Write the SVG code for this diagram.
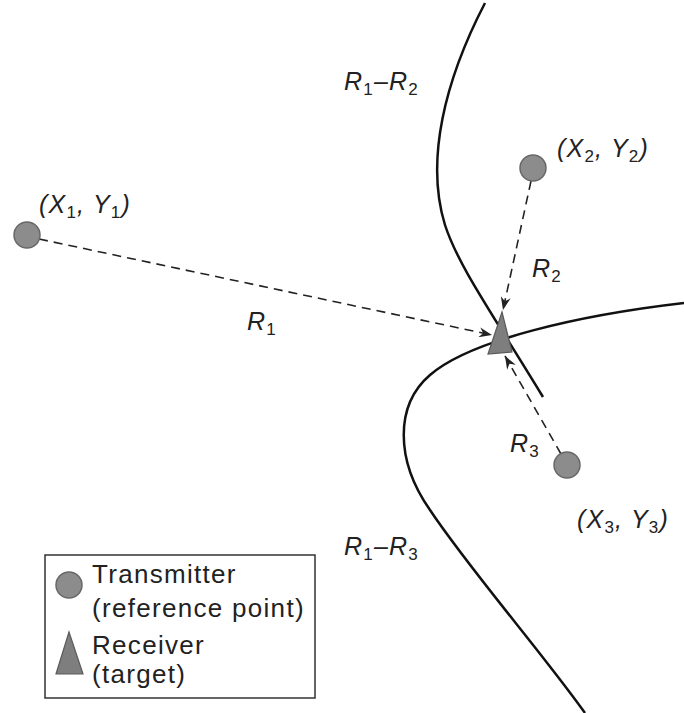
<svg xmlns="http://www.w3.org/2000/svg" width="684" height="713" viewBox="0 0 684 713">
<style>
.curve{fill:none;stroke:#111;stroke-width:2.5}
.dash{fill:none;stroke:#222;stroke-width:1.6;stroke-dasharray:9 6}
.tx{fill:#8c8c8c;stroke:#686868;stroke-width:1.5}
.rx{fill:#7e7e7e;stroke:#5a5a5a;stroke-width:1.2}
.lbl{font-family:"Liberation Sans",Arial,sans-serif;font-style:italic;font-size:25px;fill:#222;letter-spacing:1.2px}
.sub{font-size:17px;font-style:normal}
.leg{font-family:"Liberation Sans",Arial,sans-serif;font-size:26px;fill:#222;letter-spacing:1.3px}
</style>
<defs>
<marker id="arr" markerUnits="userSpaceOnUse" markerWidth="14" markerHeight="10" refX="13" refY="5" orient="auto">
<path d="M0,0 L13,5 L0,10 L4,5 z" fill="#222"/>
</marker>
</defs>
<rect width="684" height="713" fill="#fff"/>
<g id="hyperbolas">
<path id="h12" class="curve" d="M485,3 C445,80 425,160 445,225 C458,265 490,310 543,397"/>
<path id="h13" class="curve" d="M684,303 C580,315 470,340 430,375 C395,405 395,460 430,510 C470,570 540,650 585,713"/>
</g>
<g id="connectors">
<path class="dash" d="M39,239 L492,335" marker-end="url(#arr)"/>
<path class="dash" d="M531,181 L503,310" marker-end="url(#arr)"/>
<path class="dash" d="M561,454 L505,356" marker-end="url(#arr)"/>
</g>
<g id="t1"><circle class="tx" cx="27" cy="235" r="13"/></g>
<g id="t2"><circle class="tx" cx="533" cy="168" r="13"/></g>
<g id="t3"><circle class="tx" cx="567" cy="465" r="13"/></g>
<g id="receiver"><polygon class="rx" points="502,312 488,354 512,352"/></g>
<g id="labels">
<text class="lbl" x="39" y="213">(X<tspan class="sub" dy="5">1</tspan><tspan dy="-5">, Y</tspan><tspan class="sub" dy="5">1</tspan><tspan dy="-5">)</tspan></text>
<text class="lbl" x="557" y="157">(X<tspan class="sub" dy="5">2</tspan><tspan dy="-5">, Y</tspan><tspan class="sub" dy="5">2</tspan><tspan dy="-5">)</tspan></text>
<text class="lbl" x="577" y="528">(X<tspan class="sub" dy="5">3</tspan><tspan dy="-5">, Y</tspan><tspan class="sub" dy="5">3</tspan><tspan dy="-5">)</tspan></text>
<text class="lbl" x="344" y="90">R<tspan class="sub" dy="5">1</tspan><tspan dy="-5">–R</tspan><tspan class="sub" dy="5">2</tspan></text>
<text class="lbl" x="344" y="555">R<tspan class="sub" dy="5">1</tspan><tspan dy="-5">–R</tspan><tspan class="sub" dy="5">3</tspan></text>
<text class="lbl" x="532" y="277">R<tspan class="sub" dy="5">2</tspan></text>
<text class="lbl" x="247" y="330">R<tspan class="sub" dy="5">1</tspan></text>
<text class="lbl" x="510" y="452">R<tspan class="sub" dy="5">3</tspan></text>
</g>
<g id="legend">
<rect x="45" y="555" width="270" height="143" fill="#fff" stroke="#333" stroke-width="1.5"/>
<circle class="tx" cx="69" cy="585" r="13"/>
<polygon class="rx" points="69,632 56,674 83,674"/>
<text class="leg" x="92" y="583">Transmitter</text>
<text class="leg" x="92" y="617">(reference point)</text>
<text class="leg" x="92" y="654">Receiver</text>
<text class="leg" x="92" y="683">(target)</text>
</g>
</svg>
